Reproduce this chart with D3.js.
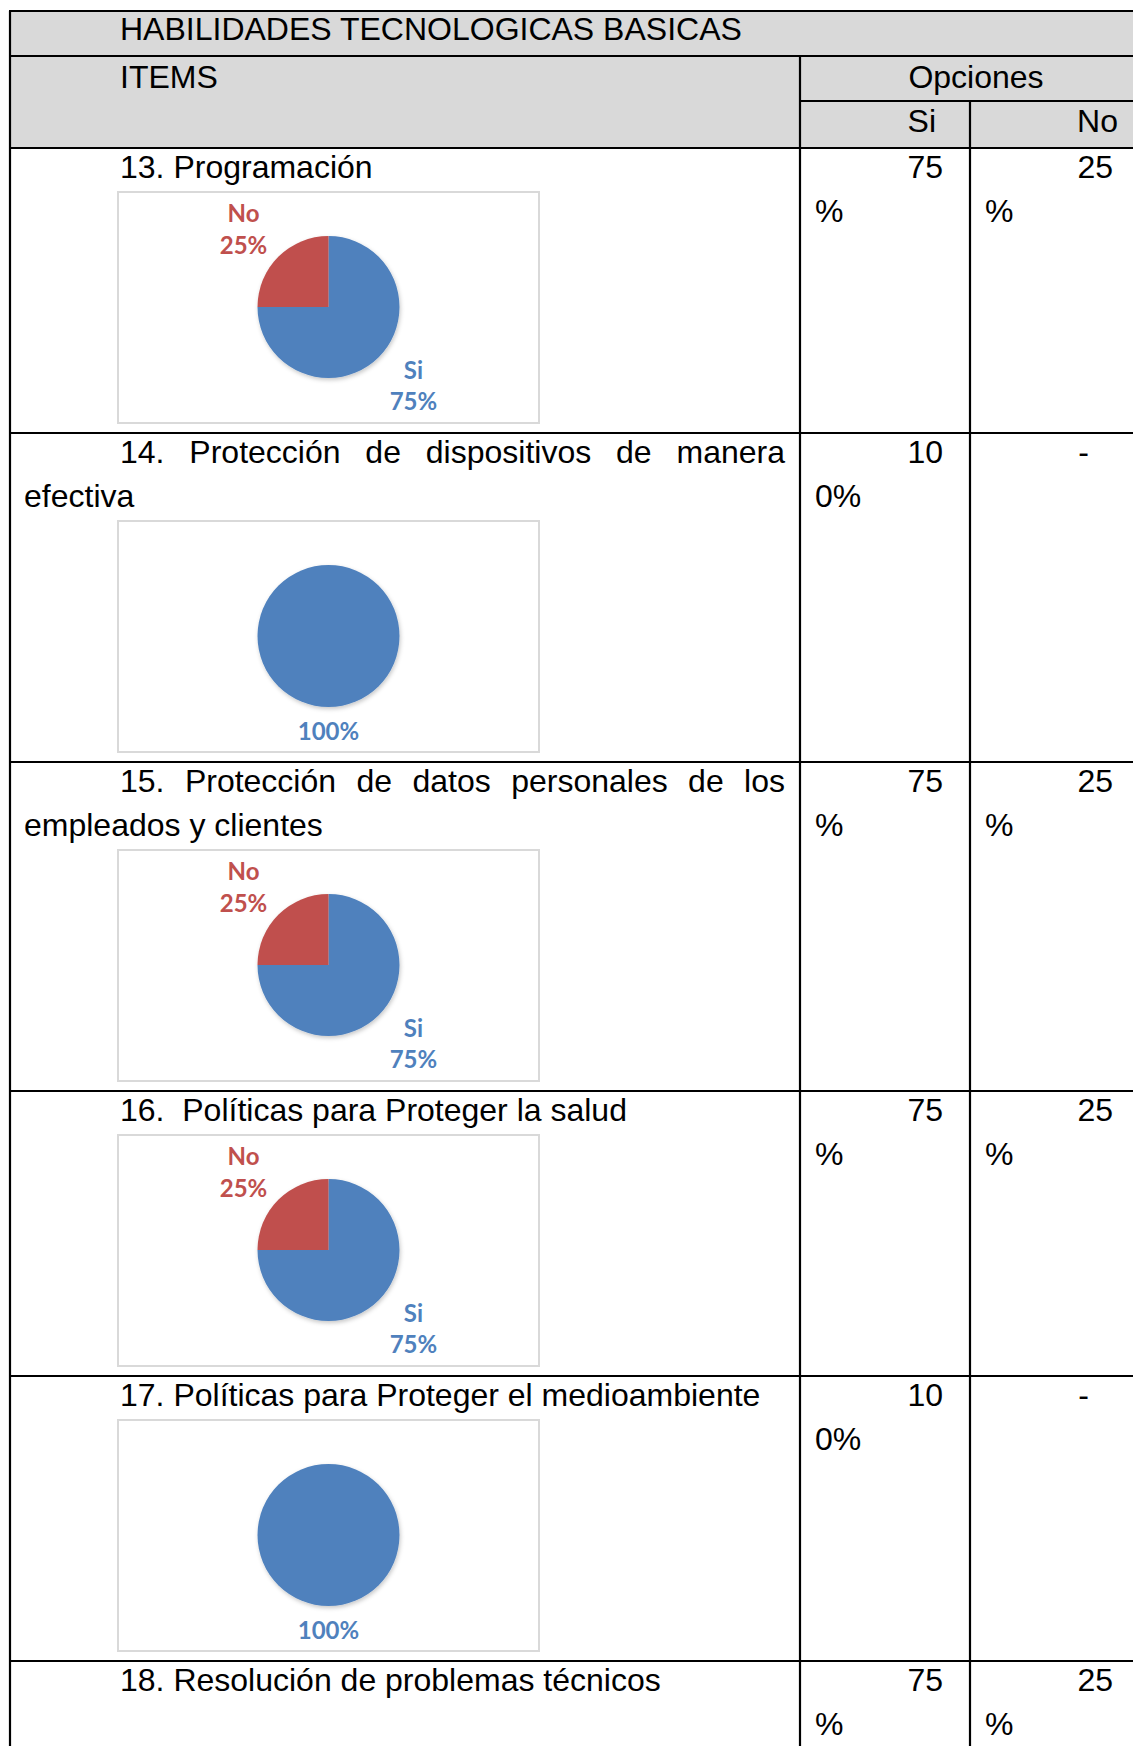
<!DOCTYPE html>
<html>
<head>
<meta charset="utf-8">
<script src="https://cdn.jsdelivr.net/npm/d3@7"></script>
<style>
  html, body { margin: 0; padding: 0; background: #fff; }
  svg { display: block; }
</style>
</head>
<body>
<div id="chart"></div>
<script>
// ---------------- DATA ----------------
const tableTitle = "HABILIDADES TECNOLOGICAS BASICAS";
const itemsHeader = "ITEMS";
const optionsHeader = "Opciones";
const categories = ["Si", "No"];
const itemLines = [
  ["13. Programación"],
  ["14. Protección de dispositivos de manera", "efectiva"],
  ["15. Protección de datos personales de los", "empleados y clientes"],
  ["16.  Políticas para Proteger la salud"],
  ["17. Políticas para Proteger el medioambiente"],
  ["18. Resolución de problemas técnicos"]
];
const siValues = [75, 100, 75, 75, 100, 75];
const noValues = [25, 0, 25, 25, 0, 25];
const showChart = [true, true, true, true, true, false];

// ---------------- STYLE / LAYOUT ----------------
const W = 1133, H = 1746;
const FONT = "'Liberation Sans', Arial, sans-serif";
const LABEL_FONT = "Lato, 'Open Sans', sans-serif";
const FS = 32, LINE = 44;
const BLUE = "#4f81bd", RED = "#c0504d", GRAY = "#d9d9d9";
const colors = d3.scaleOrdinal().domain(categories).range([BLUE, RED]);

const xLeft = 10, xCol1 = 800, xCol2 = 970, xRight = W + 30;
const yTop = 11, yH1 = 56, yH2 = 101, yH3 = 148;
const textIndentX = 120, textLeftX = 24, textRightX = 785;
const boxX = 118, boxW = 421, boxH = 231;
const pieR = 71;

const svg = d3.select("#chart").append("svg")
  .attr("width", W).attr("height", H)
  .attr("viewBox", `0 0 ${W} ${H}`);

const defs = svg.append("defs");
const f = defs.append("filter").attr("id", "shadow")
  .attr("x", "-20%").attr("y", "-20%").attr("width", "140%").attr("height", "140%");
f.append("feDropShadow").attr("dx", 1).attr("dy", 2).attr("stdDeviation", 2.2)
  .attr("flood-color", "#000").attr("flood-opacity", 0.22);

// header background
svg.append("rect").attr("x", xLeft).attr("y", yTop)
  .attr("width", xRight - xLeft).attr("height", yH3 - yTop).attr("fill", GRAY);

// compute row tops
const rowTops = [];
let y = yH3;
itemLines.forEach((lines, i) => {
  rowTops.push(y);
  const h = 30 + (lines.length - 1) * LINE + (showChart[i] ? 14 + boxH + 10 : 60);
  y += h;
});
const yBottom = y;

const text = (x, yy, str, anchor = "start") => svg.append("text")
  .attr("x", x).attr("y", yy).attr("text-anchor", anchor)
  .attr("font-family", FONT).attr("font-size", FS).attr("fill", "#000").text(str);

// header texts
text(textIndentX, 40, tableTitle);
text(textIndentX, 88, itemsHeader);
text((xCol1 + 1152) / 2, 88, optionsHeader, "middle");
text(936, 132, categories[0], "end");
text(1118, 132, categories[1], "end");

// measure helper
const measurer = svg.append("text").attr("font-family", FONT).attr("font-size", FS)
  .attr("visibility", "hidden");
const measure = s => { measurer.text(s); return measurer.node().getComputedTextLength(); };

const pie = d3.pie().sort(null).value(d => d.value);
const arc = d3.arc().innerRadius(0).outerRadius(pieR);
const labelArc = d3.arc().innerRadius(115).outerRadius(115);

itemLines.forEach((lines, i) => {
  const top = rowTops[i];
  const base = top + 30;
  // item text
  lines.forEach((ln, k) => {
    const x0 = k === 0 ? textIndentX : textLeftX;
    const by = base + k * LINE;
    const justify = k < lines.length - 1;
    if (justify) {
      const words = ln.split(" ").filter(w => w.length);
      const widths = words.map(measure);
      const total = d3.sum(widths);
      const gap = (textRightX - x0 - total) / (words.length - 1);
      let cx = x0;
      words.forEach((w, j) => { text(cx, by, w); cx += widths[j] + gap; });
    } else {
      text(x0, by, ln).attr("xml:space", "preserve").style("white-space", "pre");
    }
  });
  // Si / No cells
  const siStr = siValues[i] + "%";
  text(943, base, siStr.slice(0, 2), "end");
  text(815, base + LINE, siStr.slice(2));
  if (noValues[i] > 0) {
    const noStr = noValues[i] + "%";
    text(1113, base, noStr.slice(0, 2), "end");
    text(985, base + LINE, noStr.slice(2));
  } else {
    text(1089, base, "-", "end");
  }
  // chart
  if (showChart[i]) {
    const boxTop = base + (lines.length - 1) * LINE + 14;
    svg.append("rect").attr("x", boxX).attr("y", boxTop)
      .attr("width", boxW).attr("height", boxH)
      .attr("fill", "#fff").attr("stroke", GRAY).attr("stroke-width", 2);
    const cx = boxX + boxW / 2, cy = boxTop + 115;
    const data = categories.map((c, j) => ({ cat: c, value: j === 0 ? siValues[i] : noValues[i] }));
    const arcs = pie(data).filter(a => a.data.value > 0);
    const g = svg.append("g").attr("transform", `translate(${cx},${cy})`);
    g.append("g").attr("filter", "url(#shadow)")
      .selectAll("path").data(arcs).join("path")
      .attr("d", arc).attr("fill", d => colors(d.data.cat));
    const single = arcs.length === 1;
    arcs.forEach(a => {
      const [ax, ay] = labelArc.centroid(a);
      const lx = ax * 1.045, ly = ay * 0.96;
      const t = g.append("text").attr("text-anchor", "middle")
        .attr("font-family", LABEL_FONT).attr("font-weight", 700)
        .attr("font-size", 24).attr("fill", colors(a.data.cat));
      if (single) {
        t.append("tspan").attr("x", lx).attr("y", ay - 11).text(a.data.value + "%");
      } else {
        t.append("tspan").attr("x", lx).attr("y", ly - 6.5).text(a.data.cat);
        t.append("tspan").attr("x", lx).attr("y", ly + 25).text(a.data.value + "%");
      }
    });
  }
});
measurer.remove();

// grid lines
const lineG = svg.append("g").attr("stroke", "#000").attr("stroke-width", 2.2);
const hl = (yy, x1, x2) => lineG.append("line").attr("x1", x1).attr("x2", x2).attr("y1", yy).attr("y2", yy);
const vl = (xx, y1, y2) => lineG.append("line").attr("x1", xx).attr("x2", xx).attr("y1", y1).attr("y2", y2);
hl(yTop, xLeft - 1, xRight);
hl(yH1, xLeft - 1, xRight);
hl(yH2, xCol1, xRight);
hl(yH3, xLeft - 1, xRight);
rowTops.slice(1).forEach(t => hl(t, xLeft - 1, xRight));
vl(xLeft, yTop, yBottom);
vl(xCol1, yH1, yBottom);
vl(xCol2, yH2, yBottom);
</script>
</body>
</html>
